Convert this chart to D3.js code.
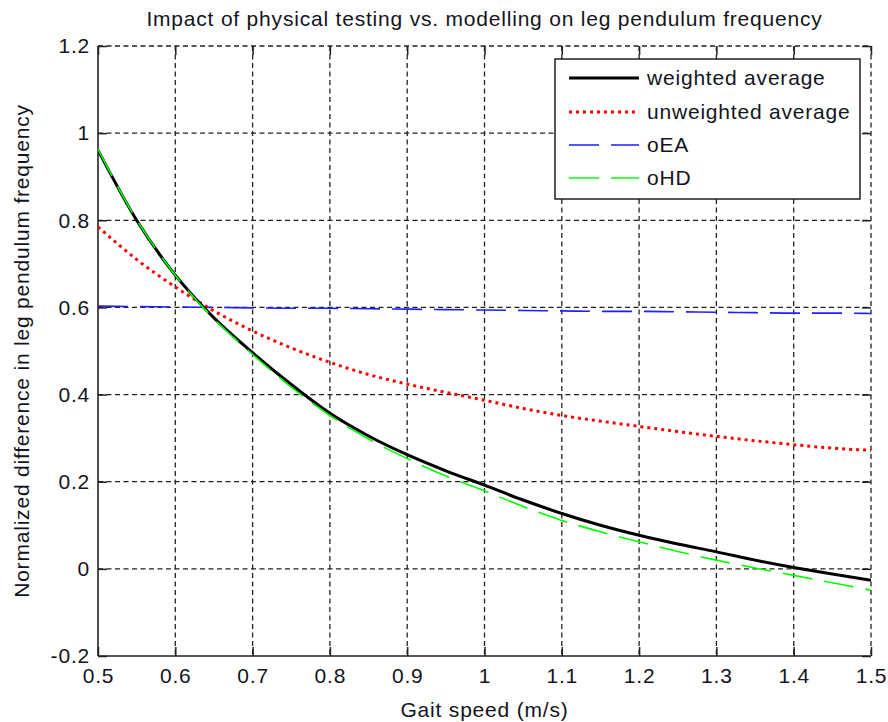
<!DOCTYPE html>
<html>
<head>
<meta charset="utf-8">
<script src="https://cdn.jsdelivr.net/npm/d3@7"></script>
<style>
  html, body { margin: 0; padding: 0; background: #fff; }
  svg text { font-family: "Liberation Sans", Arial, sans-serif; fill: #141420; }
</style>
</head>
<body>
<script>
// Gait speed samples (m/s)
const speeds = [0.50, 0.55, 0.60, 0.65, 0.70, 0.75, 0.80, 0.85, 0.90, 0.95, 1.00,
                1.05, 1.10, 1.15, 1.20, 1.25, 1.30, 1.35, 1.40, 1.45, 1.50];

// Normalized difference in leg pendulum frequency for each series
const weightedAvg = [0.961, 0.800, 0.674, 0.576, 0.496, 0.423, 0.357, 0.305, 0.262, 0.225, 0.192,
                     0.158, 0.127, 0.100, 0.077, 0.057, 0.039, 0.020, 0.003, -0.012, -0.026];
const unweightedAvg = [0.785, 0.710, 0.647, 0.592, 0.546, 0.507, 0.474, 0.446, 0.424, 0.405, 0.387,
                       0.368, 0.352, 0.339, 0.327, 0.315, 0.304, 0.294, 0.285, 0.277, 0.272];
const oEA = [0.603, 0.602, 0.601, 0.600, 0.599, 0.598, 0.598, 0.597, 0.596, 0.595, 0.594,
             0.593, 0.592, 0.591, 0.591, 0.590, 0.589, 0.588, 0.587, 0.587, 0.586];
const oHD = [0.963, 0.801, 0.674, 0.574, 0.492, 0.417, 0.352, 0.298, 0.253, 0.213, 0.179,
             0.143, 0.111, 0.085, 0.062, 0.040, 0.020, 0.002, -0.015, -0.032, -0.049];

const seriesNames = ["weighted average", "unweighted average", "oEA", "oHD"];

// Tick values and their labels
const xTicks = [0.5, 0.6, 0.7, 0.8, 0.9, 1.0, 1.1, 1.2, 1.3, 1.4, 1.5];
const xTickLabels = ["0.5", "0.6", "0.7", "0.8", "0.9", "1", "1.1", "1.2", "1.3", "1.4", "1.5"];
const yTicks = [-0.2, 0, 0.2, 0.4, 0.6, 0.8, 1.0, 1.2];
const yTickLabels = ["-0.2", "0", "0.2", "0.4", "0.6", "0.8", "1", "1.2"];

const titleText = "Impact of physical testing vs. modelling on leg pendulum frequency";
const xLabelText = "Gait speed (m/s)";
const yLabelText = "Normalized difference in leg pendulum frequency";

const W = 888, H = 722;
const plot = { left: 98, right: 871, top: 46, bottom: 656 };

const svg = d3.select("body").append("svg")
  .attr("width", W).attr("height", H)
  .style("display", "block");

svg.append("rect").attr("width", W).attr("height", H).attr("fill", "#fff");

const x = d3.scaleLinear().domain([0.5, 1.5]).range([plot.left, plot.right]);
const y = d3.scaleLinear().domain([-0.2, 1.2]).range([plot.bottom, plot.top]);

const fontSize = 21;
const letterSp = 0.8;

// Dashed grid
const grid = svg.append("g").attr("class", "grid")
  .attr("stroke", "#222").attr("stroke-width", 1.3).attr("stroke-dasharray", "5,3.5");
grid.selectAll("line.v").data(xTicks.slice(1)).join("line")
  .attr("x1", d => x(d)).attr("x2", d => x(d))
  .attr("y1", plot.top).attr("y2", plot.bottom);
grid.selectAll("line.h").data(yTicks.slice(1)).join("line")
  .attr("x1", plot.left).attr("x2", plot.right)
  .attr("y1", d => y(d)).attr("y2", d => y(d));

// Axes: bottom and left with inward ticks
const tickLen = 9;

const xAxis = svg.append("g").attr("transform", `translate(0,${plot.bottom})`)
  .call(d3.axisBottom(x).tickValues(xTicks).tickSizeInner(-tickLen).tickSizeOuter(0)
    .tickFormat((d, i) => xTickLabels[i]));
const yAxis = svg.append("g").attr("transform", `translate(${plot.left},0)`)
  .call(d3.axisLeft(y).tickValues(yTicks).tickSizeInner(-tickLen).tickSizeOuter(0)
    .tickPadding(8).tickFormat((d, i) => yTickLabels[i]));
// Mirrored ticks on top and right
const xTop = svg.append("g").attr("transform", `translate(0,${plot.top})`)
  .call(d3.axisTop(x).tickValues(xTicks).tickSizeInner(-tickLen).tickSizeOuter(0).tickFormat(""));
const yRight = svg.append("g").attr("transform", `translate(${plot.right},0)`)
  .call(d3.axisRight(y).tickValues(yTicks).tickSizeInner(-tickLen).tickSizeOuter(0).tickFormat(""));

[xAxis, yAxis, xTop, yRight].forEach(g => {
  g.select(".domain").remove();
  g.selectAll(".tick line").attr("stroke", "#222").attr("stroke-width", 1.5);
  g.selectAll("text").attr("font-size", fontSize).attr("letter-spacing", letterSp)
    .attr("font-family", "Liberation Sans, Arial, sans-serif").attr("fill", "#141420");
});
xAxis.selectAll("text").attr("dy", null).attr("y", 27);

// Solid left and bottom spines
svg.append("line").attr("x1", plot.left).attr("x2", plot.left)
  .attr("y1", plot.top).attr("y2", plot.bottom).attr("stroke", "#222").attr("stroke-width", 1.6);
svg.append("line").attr("x1", plot.left).attr("x2", plot.right)
  .attr("y1", plot.bottom).attr("y2", plot.bottom).attr("stroke", "#222").attr("stroke-width", 1.6);

// Data lines
svg.append("clipPath").attr("id", "plotClip").append("rect")
  .attr("x", plot.left).attr("y", plot.top)
  .attr("width", plot.right - plot.left).attr("height", plot.bottom - plot.top);

const line = d3.line().x((d, i) => x(speeds[i])).y(d => y(d)).curve(d3.curveMonotoneX);

const styles = [
  { data: weightedAvg, color: "#000000", width: 3, dash: null },
  { data: unweightedAvg, color: "#ff0000", width: 3, dash: "3,4" },
  { data: oEA, color: "#1f1fff", width: 1.6, dash: "30,12" },
  { data: oHD, color: "#00ff00", width: 1.6, dash: "30,12" }
];

const lines = svg.append("g").attr("clip-path", "url(#plotClip)");
// draw order: blue, red, black, green on top
[2, 1, 0, 3].forEach(i => {
  const s = styles[i];
  lines.append("path").datum(s.data)
    .attr("d", line)
    .attr("fill", "none")
    .attr("stroke", s.color)
    .attr("stroke-width", s.width)
    .attr("stroke-dasharray", s.dash)
    .attr("stroke-linecap", "butt");
});

// Legend
const leg = { x: 555, y: 59, w: 305, h: 140 };
const legend = svg.append("g");
legend.append("rect").attr("x", leg.x).attr("y", leg.y).attr("width", leg.w).attr("height", leg.h)
  .attr("fill", "#fff").attr("stroke", "#111").attr("stroke-width", 1.4);
const rowY = [78, 112, 145, 178];
seriesNames.forEach((name, i) => {
  const s = styles[i];
  legend.append("line").attr("x1", 569).attr("x2", 639).attr("y1", rowY[i]).attr("y2", rowY[i])
    .attr("stroke", s.color).attr("stroke-width", s.width)
    .attr("stroke-dasharray", s.dash);
  legend.append("text").attr("x", 647).attr("y", rowY[i] + 7)
    .attr("font-size", fontSize).attr("letter-spacing", letterSp).text(name);
});

// Title and axis labels
svg.append("text").attr("x", (plot.left + plot.right) / 2).attr("y", 26)
  .attr("text-anchor", "middle").attr("font-size", fontSize).attr("letter-spacing", letterSp)
  .text(titleText);
svg.append("text").attr("x", (plot.left + plot.right) / 2).attr("y", 717)
  .attr("text-anchor", "middle").attr("font-size", fontSize).attr("letter-spacing", letterSp)
  .text(xLabelText);
svg.append("text")
  .attr("transform", `translate(29,${(plot.top + plot.bottom) / 2}) rotate(-90)`)
  .attr("text-anchor", "middle").attr("font-size", fontSize).attr("letter-spacing", letterSp)
  .text(yLabelText);
</script>
</body>
</html>
